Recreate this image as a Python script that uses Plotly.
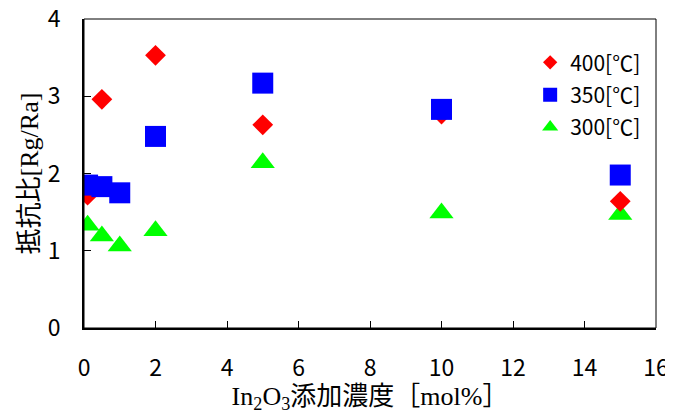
import plotly.graph_objects as go

x_vals = [0.1, 0.5, 1, 2, 5, 10, 15]
x_400 = [0.1, 0.5, 2, 5, 10, 15]
y_400 = [1.72, 2.96, 3.53, 2.63, 2.77, 1.64]
y_350 = [1.85, 1.83, 1.75, 2.48, 3.17, 2.83, 1.98]
y_300 = [1.33, 1.19, 1.06, 1.26, 2.14, 1.49, 1.47]
names = ["400[℃]", "350[℃]", "300[℃]"]
x_ticks = [0, 2, 4, 6, 8, 10, 12, 14, 16]
y_ticks = [0, 1, 2, 3, 4]

RED, BLUE, GREEN = "#ff0000", "#0000ff", "#00ff00"
JP = "Noto Sans CJK JP"

fig = go.Figure()
fig.add_trace(go.Scatter(x=x_vals, y=y_300, mode="markers", showlegend=False,
                         marker=dict(symbol="triangle-up", size=21, color=GREEN)))
fig.add_trace(go.Scatter(x=x_400, y=y_400, mode="markers", showlegend=False,
                         marker=dict(symbol="diamond", size=16, color=RED)))
fig.add_trace(go.Scatter(x=x_vals, y=y_350, mode="markers", showlegend=False,
                         marker=dict(symbol="square", size=21, color=BLUE)))
for i, (nm, sym, col, sz) in enumerate([(names[0], "diamond", RED, 11),
                                        (names[1], "square", BLUE, 14),
                                        (names[2], "triangle-up", GREEN, 14)]):
    fig.add_trace(go.Scatter(x=[None], y=[None], mode="markers", name=nm,
                             legendgroup=f"g{i}",
                             marker=dict(symbol=sym, size=sz, color=col)))

# thin frame round the plot area (top and right edges)
fig.add_shape(type="rect", xref="paper", yref="paper", x0=0, y0=0, x1=1, y1=1,
              line=dict(color="black", width=1), layer="above")

# page body has an 8px margin, so the figure is offset by 8px in the window
fig.update_layout(
    width=665, height=406,
    margin=dict(l=76, r=17, t=11, b=86),
    paper_bgcolor="white", plot_bgcolor="white",
    font=dict(family=JP, size=20, color="black"),
    showlegend=True,
    legend=dict(x=0.78, y=0.925, xanchor="left", yanchor="top",
                bgcolor="rgba(0,0,0,0)", font=dict(family=JP, size=21),
                itemwidth=30, tracegroupgap=2),
)
fig.update_xaxes(
    range=[0, 16], tickvals=x_ticks, ticktext=[str(v) for v in x_ticks],
    showgrid=False, zeroline=False, showline=True, linecolor="black", linewidth=2,
    ticks="inside", ticklen=7, tickcolor="black", tickwidth=1,
    ticklabelstandoff=18, tickfont=dict(family=JP, size=23), automargin=False,
    ticklabeloverflow="allow",
    title=dict(text="<span style='font-family:Liberation Serif'>In<sub>2</sub>O<sub>3</sub></span>"
                    "添加濃度［<span style='font-family:Liberation Serif'>mol%</span>］",
               font=dict(family=JP, size=26), standoff=2),
)
fig.update_yaxes(
    range=[0, 4], tickvals=y_ticks, ticktext=[str(v) for v in y_ticks],
    showgrid=False, zeroline=False, showline=True, linecolor="black", linewidth=2,
    ticks="inside", ticklen=7, tickcolor="black", tickwidth=1,
    ticklabelstandoff=17, tickfont=dict(family=JP, size=23), automargin=False,
    ticklabeloverflow="allow",
    title=dict(text="抵抗比<span style='font-family:Liberation Serif'>[Rg/Ra]</span>",
               font=dict(family=JP, size=26), standoff=12),
)
fig.write_html("out.html")
